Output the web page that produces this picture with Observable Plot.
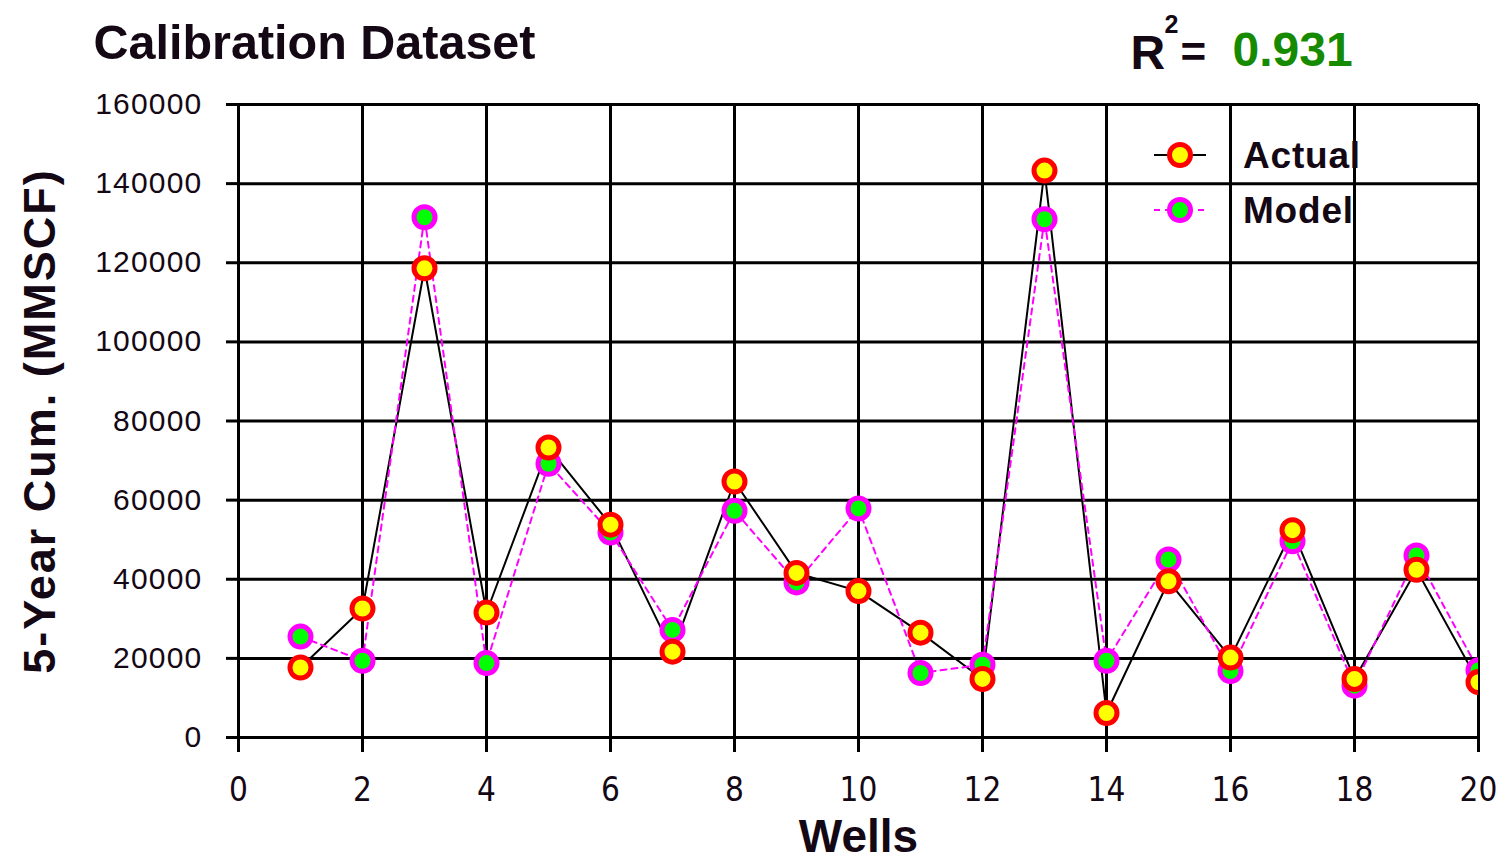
<!DOCTYPE html>
<html>
<head>
<meta charset="utf-8">
<script src="https://cdn.jsdelivr.net/npm/d3@7"></script>
<script src="https://cdn.jsdelivr.net/npm/@observablehq/plot@0.6"></script>
<style>
  html, body { margin: 0; padding: 0; background: #fff; }
  #chart { width: 1503px; height: 862px; }
  g[aria-label="y-axis tick label"] text { letter-spacing: 1.2px; }
</style>
</head>
<body>
<div id="chart"></div>
<script>
// ---- data ----
const wells = [1, 2, 3, 4, 5, 6, 7, 8, 9, 10, 11, 12, 13, 14, 15, 16, 17, 18, 19, 20];
const actual = [17700, 32600, 118600, 31600, 73300, 53800, 21700, 64700, 41600, 37000,
                26500, 14800, 143300, 6200, 39500, 20200, 52400, 14800, 42400, 14000];
const model  = [25500, 19400, 131500, 18800, 69200, 51800, 27200, 57300, 39200, 57900,
                16300, 18400, 131000, 19400, 45000, 16800, 49600, 13100, 46000, 17000];
const xTicks = [0, 2, 4, 6, 8, 10, 12, 14, 16, 18, 20];
const yTicks = [0, 20000, 40000, 60000, 80000, 100000, 120000, 140000, 160000];
const seriesNames = ["Actual", "Model"];
const titleText = "Calibration Dataset";
const r2Value = "0.931";
const xLabel = "Wells";
const yLabel = "5-Year Cum. (MMSCF)";

const actualData = wells.map((w, i) => ({well: w, value: actual[i]}));
const modelData = wells.map((w, i) => ({well: w, value: model[i]}));

const ink = "#140814";
const sans = "'Liberation Sans', Arial, sans-serif";
const narrow = "'DejaVu Sans Condensed', 'Liberation Sans Narrow', 'Liberation Sans', Arial, sans-serif";

const legendItems = [
  {name: seriesNames[0], line: "#000", dash: null, ring: "#ff0000", fill: "#ffff00"},
  {name: seriesNames[1], line: "#ff00ff", dash: "6,5", ring: "#ff00ff", fill: "#00ff00"}
];

function legendMark(index, scales, values, dims) {
  const g = d3.create("svg:g").attr("aria-label", "legend");
  legendItems.forEach((it, i) => {
    const cy = 155 + i * 55, cx = 1180;
    g.append("line").attr("x1", cx - 26).attr("x2", cx + 26).attr("y1", cy).attr("y2", cy)
      .attr("stroke", it.line).attr("stroke-width", 2).attr("stroke-dasharray", it.dash);
    g.append("circle").attr("cx", cx).attr("cy", cy).attr("r", 10.5)
      .attr("fill", it.fill).attr("stroke", it.ring).attr("stroke-width", 5);
    g.append("text").attr("x", 1243).attr("y", cy + 13).text(it.name)
      .attr("text-anchor", "start")
      .attr("font-family", sans).attr("font-weight", "bold").attr("font-size", 37)
      .attr("fill", ink).attr("letter-spacing", "0.8px");
  });
  return g.node();
}

const chart = Plot.plot({
  width: 1503,
  height: 862,
  marginLeft: 238,
  marginRight: 25,
  marginTop: 104,
  marginBottom: 125,
  x: {domain: [0, 20]},
  y: {domain: [0, 160000]},
  style: {background: "#fff", color: ink, fontFamily: sans},
  marks: [
    Plot.gridX(xTicks, {stroke: "#000", strokeOpacity: 1, strokeWidth: 3}),
    Plot.gridY(yTicks, {stroke: "#000", strokeOpacity: 1, strokeWidth: 3}),
    Plot.axisY(yTicks, {tickSize: 12, tickPadding: 24, strokeWidth: 3, fontSize: 30,
      tickFormat: d => String(d), label: null, stroke: "#000"}),
    Plot.axisX(xTicks, {tickSize: 15, tickPadding: 25, strokeWidth: 3, fontSize: 33,
      fontFamily: narrow, tickFormat: d => String(d), label: null, stroke: "#000"}),
    Plot.ruleX([0], {stroke: "#000", strokeWidth: 3}),
    Plot.ruleY([0], {stroke: "#000", strokeWidth: 3}),
    Plot.line(actualData, {x: "well", y: "value", stroke: "#000", strokeWidth: 2}),
    Plot.line(modelData, {x: "well", y: "value", stroke: "#ff00ff", strokeWidth: 2, strokeDasharray: "6,5"}),
    Plot.dot(modelData, {x: "well", y: "value", r: 10.5, fill: "#00ff00", stroke: "#ff00ff", strokeWidth: 5, clip: true}),
    Plot.dot(actualData, {x: "well", y: "value", r: 10.5, fill: "#ffff00", stroke: "#ff0000", strokeWidth: 5, clip: true}),
    // titles and labels
    Plot.text([titleText], {frameAnchor: "top-left", dx: -145, dy: -46, textAnchor: "start",
      lineAnchor: "bottom", fontSize: 48.5, fontWeight: "bold", fill: ink}),
    Plot.text(["R"], {frameAnchor: "top-left", dx: 1130 - 238, dy: 68 - 104, textAnchor: "start",
      lineAnchor: "bottom", fontSize: 48, fontWeight: "bold", fill: ink}),
    Plot.text(["2"], {frameAnchor: "top-left", dx: 1164 - 238, dy: 32 - 104, textAnchor: "start",
      lineAnchor: "bottom", fontSize: 25, fontWeight: "bold", fill: ink}),
    Plot.text(["="], {frameAnchor: "top-left", dx: 1180 - 238, dy: 66 - 104, textAnchor: "start",
      lineAnchor: "bottom", fontSize: 44, fontWeight: "bold", fill: ink}),
    Plot.text([r2Value], {frameAnchor: "top-left", dx: 1232 - 238, dy: 65 - 104, textAnchor: "start",
      lineAnchor: "bottom", fontSize: 48, fontWeight: "bold", fill: "#168a00"}),
    Plot.text([yLabel], {frameAnchor: "left", dx: -198, rotate: -90, textAnchor: "middle",
      lineAnchor: "middle", fontSize: 45, fontWeight: "bold", fill: ink}),
    Plot.text([xLabel], {frameAnchor: "bottom", dy: 100, textAnchor: "middle",
      lineAnchor: "middle", fontSize: 46, fontWeight: "bold", fill: ink}),
    legendMark
  ]
});

d3.select(chart).selectAll("text")
  .filter(function () { return this.textContent === yLabel; })
  .style("letter-spacing", "2px");

document.getElementById("chart").appendChild(chart);
</script>
</body>
</html>
